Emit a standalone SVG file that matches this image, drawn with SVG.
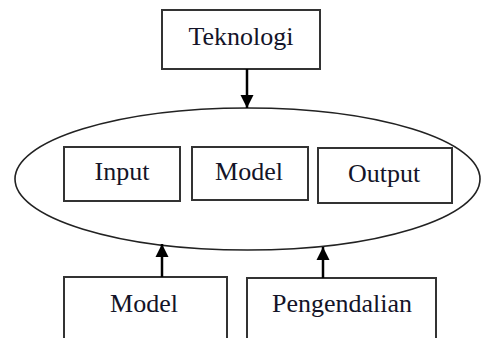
<svg xmlns="http://www.w3.org/2000/svg" width="481" height="338" viewBox="0 0 481 338">
<defs>
<style>
.box{fill:#fff;stroke:#333;stroke-width:2}
.lbl{font-family:"Liberation Serif","Times New Roman",serif;font-size:26px;fill:#141428;text-anchor:middle}
.conn{stroke:#000;stroke-width:2.5;fill:none}
</style>
<marker id="ah" markerWidth="13" markerHeight="14" refX="13" refY="6.5" orient="auto" markerUnits="userSpaceOnUse" viewBox="0 0 13 13">
<path d="M0,0 L13,6.5 L0,13 Z" fill="#000"/>
</marker>
</defs>
<rect width="481" height="338" fill="#fff"/>
<g id="ellipse">
<ellipse cx="247.5" cy="179" rx="232.5" ry="71" fill="none" stroke="#222" stroke-width="1.6"/>
</g>
<g id="teknologi">
<rect class="box" x="162" y="10" width="158" height="59"/>
<text class="lbl" x="241" y="45">Teknologi</text>
</g>
<g id="input">
<rect class="box" x="64" y="147" width="116" height="54"/>
<text class="lbl" x="122" y="180">Input</text>
</g>
<g id="model-inner">
<rect class="box" x="192" y="147" width="116" height="53"/>
<text class="lbl" x="249" y="180">Model</text>
</g>
<g id="output">
<rect class="box" x="318" y="148" width="134" height="55"/>
<text class="lbl" x="384" y="182">Output</text>
</g>
<g id="model">
<rect class="box" x="64" y="277" width="163" height="70"/>
<text class="lbl" x="144" y="312">Model</text>
</g>
<g id="pengendalian">
<rect class="box" x="247" y="278" width="189" height="70"/>
<text class="lbl" x="342" y="312">Pengendalian</text>
</g>
<g id="connectors">
<line class="conn" x1="247" y1="69" x2="247" y2="108" marker-end="url(#ah)"/>
<line class="conn" x1="162" y1="277" x2="162" y2="244" marker-end="url(#ah)"/>
<line class="conn" x1="323" y1="278" x2="323" y2="247" marker-end="url(#ah)"/>
</g>
</svg>
